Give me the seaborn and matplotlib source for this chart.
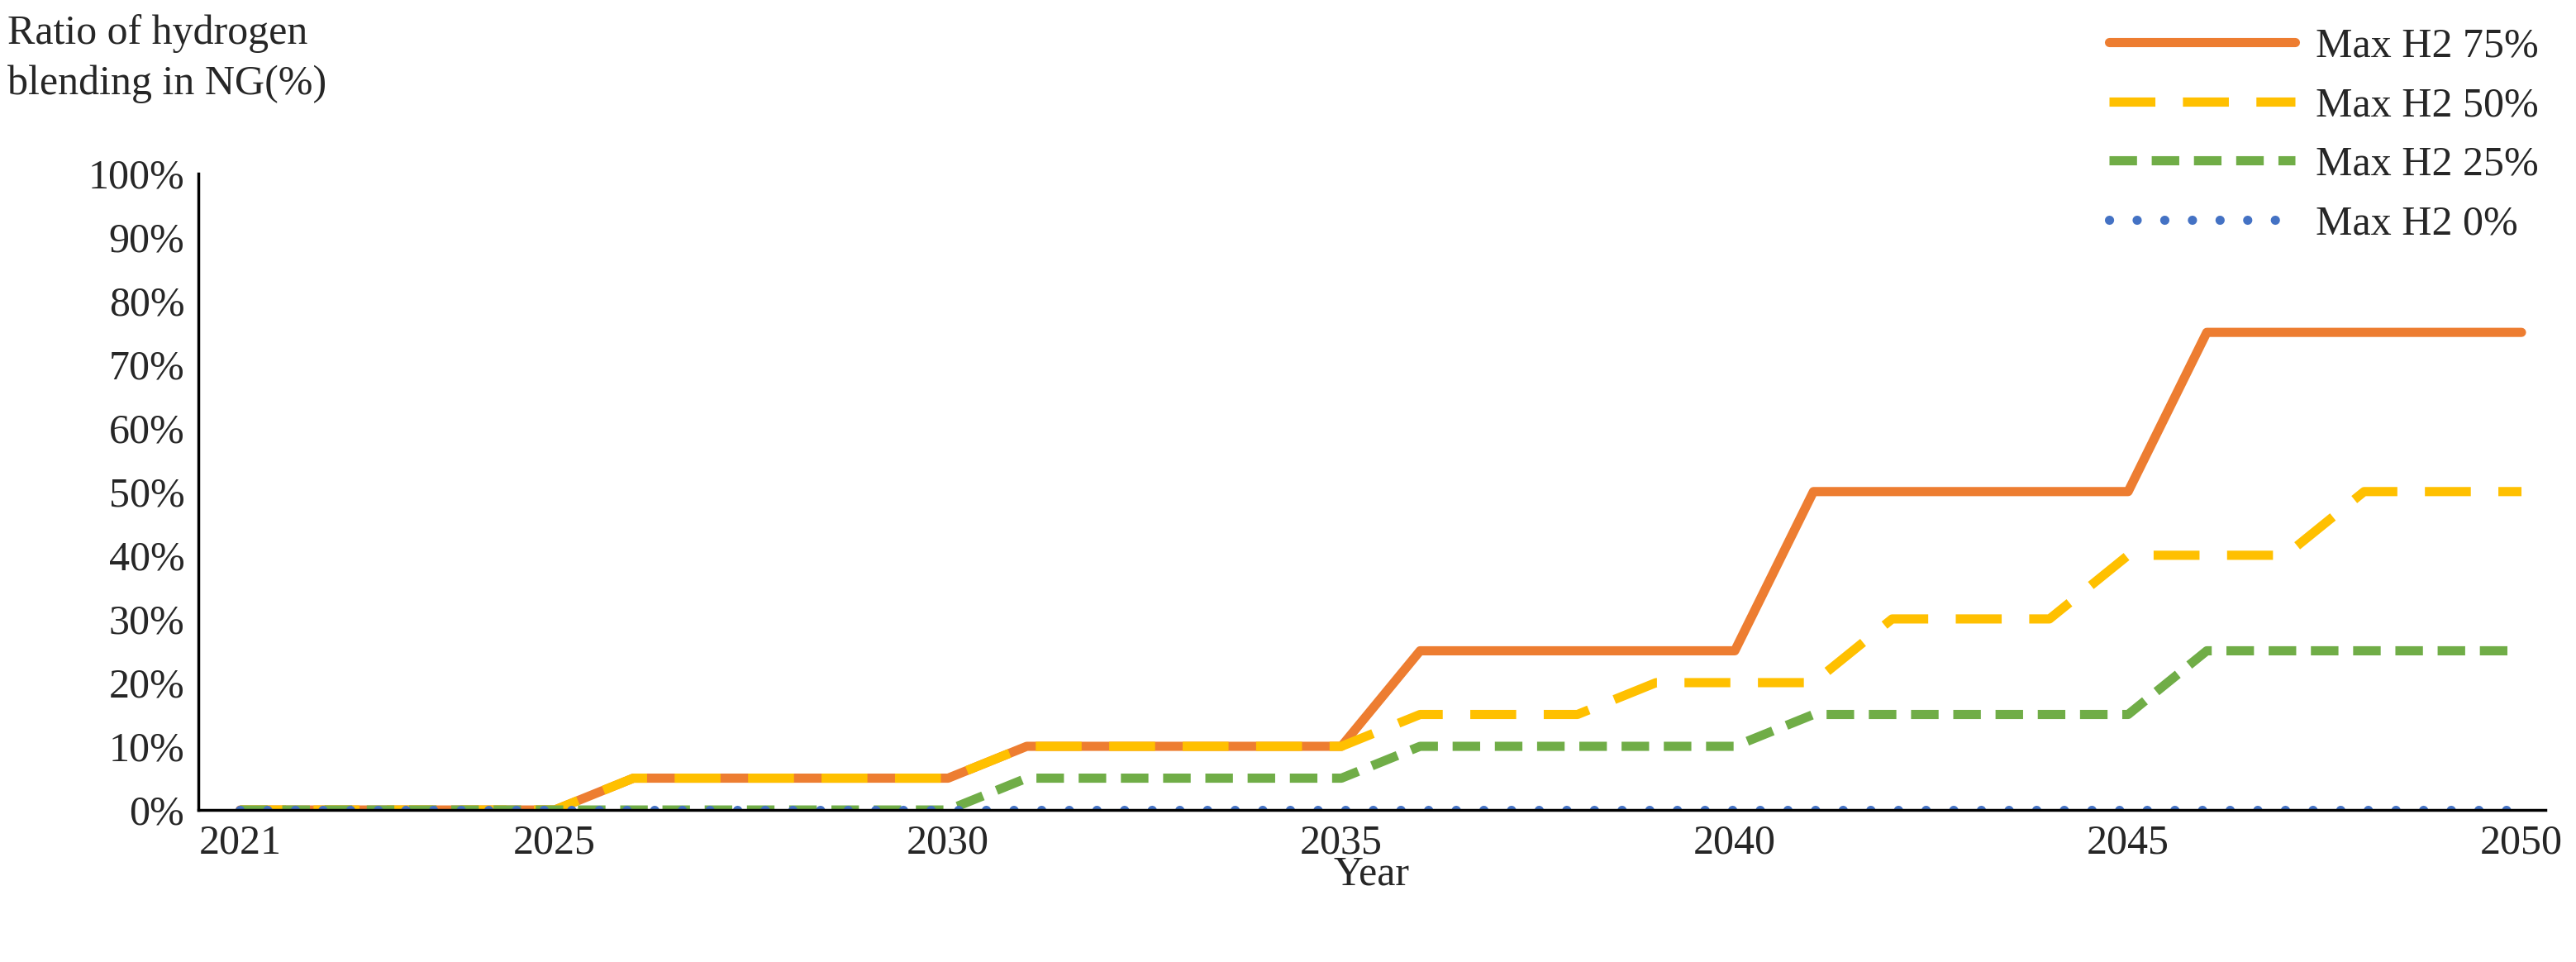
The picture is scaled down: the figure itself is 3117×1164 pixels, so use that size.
import numpy as np
import pandas as pd
import matplotlib
matplotlib.use("Agg")
import matplotlib.pyplot as plt
import seaborn as sns

years = list(range(2021, 2051))
h2_75 = [0]*5 + [5]*5 + [10]*5 + [25]*5 + [50]*5 + [75]*5
h2_50 = [0]*5 + [5]*5 + [10]*5 + [15]*3 + [20]*3 + [30]*3 + [40]*3 + [50]*3
h2_25 = [0]*10 + [5]*5 + [10]*5 + [15]*5 + [25]*5
h2_0 = [0]*30
xticks = [2021, 2025, 2030, 2035, 2040, 2045, 2050]

sns.set_style("white")
plt.rcParams['font.family'] = ['Liberation Serif', 'DejaVu Serif']

fig = plt.figure(figsize=(31.17, 11.64), dpi=100)
ax = fig.add_axes([0.077, 0.158, 0.911, 0.662])

df = pd.DataFrame({'Year': years, 'Max H2 75%': h2_75, 'Max H2 50%': h2_50,
                   'Max H2 25%': h2_25, 'Max H2 0%': h2_0})
styles = {
    'Max H2 75%': dict(color='#ED7D31', dashes=None),
    'Max H2 50%': dict(color='#FFC000', dashes=(5, 3)),
    'Max H2 25%': dict(color='#70AD47', dashes=(3, 1.6)),
    'Max H2 0%': dict(color='#4472C4', dashes=(0.01, 3.0)),
}
for name, st in styles.items():
    sns.lineplot(data=df, x='Year', y=name, ax=ax, color=st['color'],
                 linewidth=8, label=name)
    l = ax.get_lines()[-1]
    if st['dashes'] is not None:
        l.set_dashes(st['dashes'])
    if name == 'Max H2 0%':
        l.set_dash_capstyle('round')

ax.set_xlim(2020.47, 2050.3)
ax.set_ylim(0, 100)
ax.set_xticks(xticks)
ax.set_yticks(range(0, 101, 10))
ax.set_yticklabels([f"{v}%" for v in range(0, 101, 10)])
ax.tick_params(labelsize=36, length=0, pad=12)
ax.set_xlabel('Year', fontsize=36, labelpad=-6)
ax.set_ylabel('')
for s in ['top', 'right']:
    ax.spines[s].set_visible(False)
for s in ['left', 'bottom']:
    ax.spines[s].set_color('black')
    ax.spines[s].set_linewidth(2.5)

fig.text(0.003, 0.985, 'Ratio of hydrogen\nblending in NG(%)', fontsize=36,
         va='top', ha='left', linespacing=1.4)

h, lb = ax.get_legend_handles_labels()
ax.get_legend().remove()
fig.legend(h, lb, loc='upper right', bbox_to_anchor=(1.0, 1.01), frameon=False,
           fontsize=36, handlelength=4.5, labelspacing=0.5, handletextpad=0.5)

fig.savefig('out.png', dpi=100)
